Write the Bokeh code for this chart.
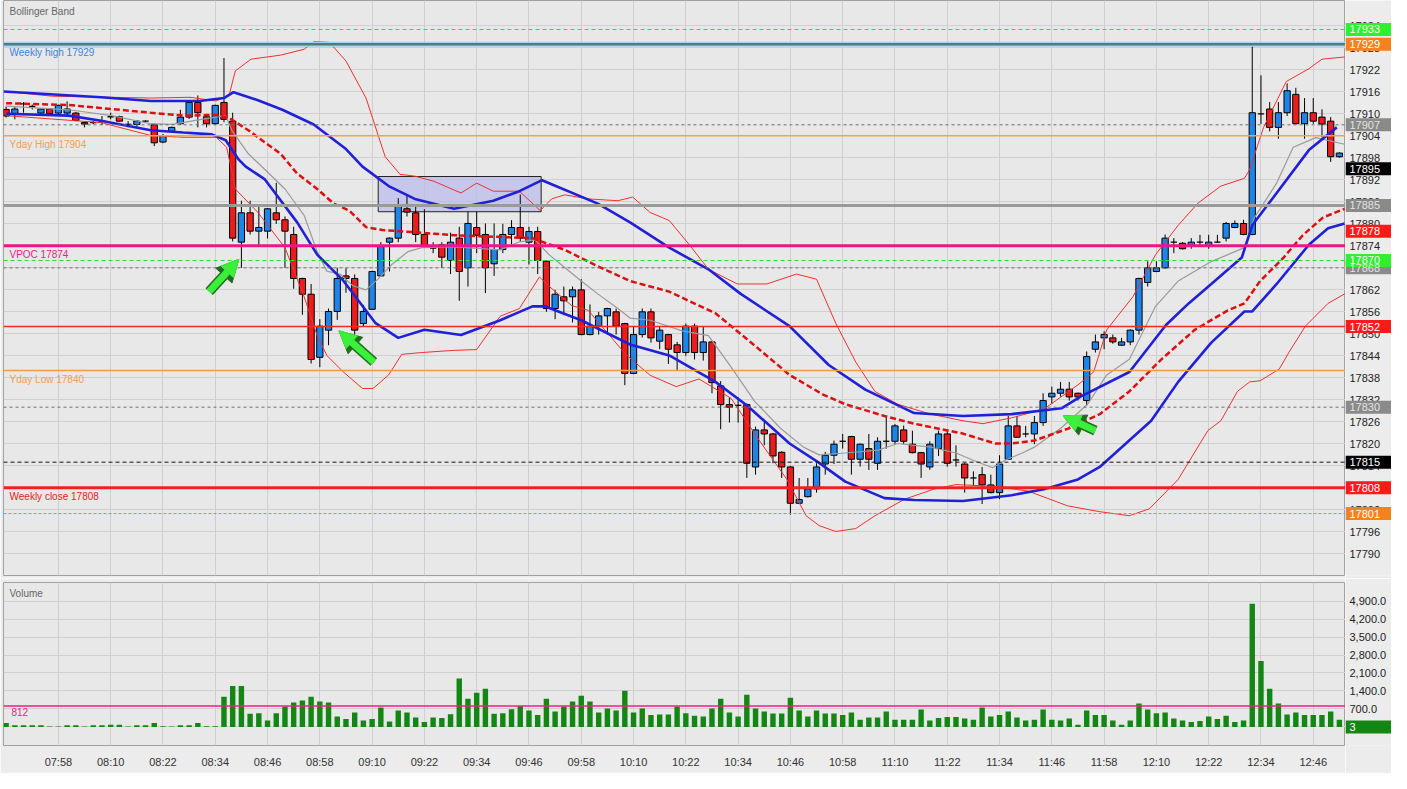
from bokeh.plotting import figure
from bokeh.models import (ColumnDataSource, FixedTicker, Range1d, Span,
                          Arrow, NormalHead)
from bokeh.layouts import column, row
from bokeh.embed import file_html
from bokeh.resources import INLINE
from bokeh.core.properties import value

# ---------------- data (2-minute bars, index 0 = 07:46) ----------------
OPEN = [17911.2, 17910.1, 17912.7, 17912.0, 17910.2, 17911.3, 17910.2, 17910.2, 17910.2, 17907.6,
        17907.6, 17908.0, 17909.2, 17909.2, 17907.1, 17907.1, 17908.0, 17907.0, 17902.3, 17905.2,
        17907.3, 17909.1, 17913.1, 17909.2, 17907.3, 17913.1, 17908.0, 17875.0, 17883.0, 17878.0,
        17878.0, 17883.0, 17881.1, 17877.1, 17865.1, 17860.8, 17843.6, 17851.0, 17856.1, 17865.8,
        17865.1, 17852.8, 17856.7, 17865.8, 17875.0, 17876.1, 17884.1, 17883.0, 17877.1, 17873.4,
        17874.3, 17870.0, 17876.1, 17868.0, 17879.0, 17877.1, 17869.1, 17873.0, 17877.1, 17879.0,
        17875.0, 17877.9, 17869.8, 17856.9, 17860.1, 17860.1, 17862.0, 17849.8, 17852.1, 17854.9,
        17856.0, 17852.8, 17839.2, 17849.8, 17856.0, 17848.0, 17849.8, 17847.0, 17844.9, 17852.1,
        17844.9, 17847.8, 17835.8, 17830.7, 17830.5, 17830.7, 17813.7, 17823.8, 17822.7, 17817.7,
        17813.7, 17803.8, 17805.6, 17807.7, 17814.5, 17816.9, 17820.7, 17822.0, 17815.8, 17818.7,
        17814.7, 17820.7, 17820.7, 17823.8, 17819.9, 17817.6, 17813.7, 17818.7, 17822.7, 17815.6,
        17814.5, 17810.7, 17811.6, 17808.8, 17806.7, 17815.8, 17824.9, 17822.7, 17822.7, 17825.8,
        17832.8, 17833.8, 17834.9, 17833.8, 17831.8, 17845.8, 17848.9, 17848.9, 17846.9, 17847.8,
        17851.0, 17864.0, 17867.0, 17868.0, 17875.0, 17874.7, 17874.1, 17875.0, 17874.1, 17875.0,
        17876.1, 17879.0, 17880.1, 17877.1, 17910.0, 17911.3, 17906.3, 17910.3, 17915.3, 17907.3,
        17910.3, 17909.1, 17908.0, 17898.3]
HIGH = [17912.0, 17911.8, 17913.2, 17912.5, 17911.5, 17911.5, 17912.5, 17913.4, 17910.5, 17907.8,
        17908.0, 17909.4, 17910.3, 17909.5, 17908.0, 17908.3, 17908.2, 17907.3, 17904.5, 17906.5,
        17911.1, 17913.5, 17915.0, 17910.0, 17912.5, 17925.2, 17910.3, 17886.3, 17886.3, 17885.2,
        17884.3, 17891.2, 17882.0, 17879.2, 17865.3, 17863.6, 17854.0, 17856.9, 17868.0, 17867.9,
        17866.2, 17857.9, 17867.2, 17875.0, 17876.3, 17887.0, 17888.0, 17885.1, 17884.0, 17875.0,
        17875.0, 17877.6, 17879.2, 17883.3, 17883.3, 17880.1, 17880.1, 17880.0, 17881.0, 17888.0,
        17879.2, 17879.2, 17870.0, 17862.0, 17862.9, 17862.9, 17864.9, 17858.0, 17856.0, 17857.1,
        17856.9, 17853.0, 17852.1, 17856.9, 17856.9, 17852.1, 17850.0, 17847.8, 17852.8, 17852.8,
        17852.1, 17848.0, 17837.1, 17832.7, 17832.7, 17831.0, 17824.7, 17826.3, 17823.0, 17818.0,
        17814.0, 17810.7, 17810.7, 17814.7, 17817.8, 17820.9, 17822.7, 17822.2, 17820.1, 17822.7,
        17821.8, 17827.6, 17825.4, 17825.0, 17823.6, 17817.8, 17820.7, 17823.6, 17823.6, 17819.6,
        17814.7, 17812.5, 17813.7, 17811.6, 17816.9, 17827.6, 17827.6, 17824.9, 17827.6, 17833.8,
        17835.6, 17836.9, 17836.9, 17834.0, 17845.2, 17849.8, 17850.7, 17849.8, 17848.9, 17851.2,
        17865.3, 17869.8, 17869.8, 17877.1, 17876.1, 17875.0, 17876.1, 17877.0, 17877.0, 17877.0,
        17880.5, 17880.9, 17881.1, 17929.4, 17920.5, 17913.2, 17913.2, 17918.3, 17917.1, 17914.3,
        17914.3, 17911.2, 17909.1, 17899.5]
LOW = [17909.0, 17908.5, 17910.3, 17911.2, 17910.0, 17909.8, 17910.0, 17909.4, 17908.0, 17906.3,
       17907.2, 17907.0, 17908.5, 17907.8, 17906.3, 17906.5, 17907.8, 17901.2, 17902.0, 17905.0,
       17907.0, 17908.6, 17906.3, 17906.3, 17907.0, 17907.7, 17875.2, 17868.0, 17877.1, 17874.3,
       17876.0, 17880.0, 17868.0, 17862.3, 17855.2, 17841.9, 17840.9, 17846.9, 17853.8, 17861.2,
       17849.8, 17851.9, 17856.5, 17865.6, 17867.0, 17875.0, 17882.0, 17875.0, 17873.4, 17872.0,
       17868.0, 17866.3, 17859.0, 17862.9, 17872.0, 17861.1, 17865.8, 17872.0, 17874.3, 17875.2,
       17868.9, 17866.3, 17856.0, 17854.0, 17855.1, 17853.1, 17849.6, 17849.6, 17849.8, 17849.8,
       17849.8, 17836.0, 17839.0, 17849.0, 17847.6, 17845.8, 17841.8, 17839.9, 17844.0, 17843.0,
       17842.7, 17833.8, 17824.0, 17825.8, 17825.8, 17810.7, 17811.6, 17819.6, 17814.7, 17810.7,
       17800.7, 17803.6, 17805.4, 17806.7, 17811.6, 17814.5, 17818.7, 17811.6, 17813.8, 17812.9,
       17812.9, 17818.7, 17819.9, 17819.9, 17817.4, 17810.7, 17812.9, 17816.7, 17813.8, 17813.8,
       17806.7, 17808.5, 17803.6, 17806.5, 17804.9, 17815.6, 17821.6, 17821.8, 17819.9, 17824.9,
       17830.9, 17832.9, 17831.8, 17831.8, 17830.5, 17844.9, 17845.8, 17847.3, 17846.7, 17846.9,
       17849.8, 17862.9, 17866.8, 17867.8, 17872.0, 17873.0, 17873.2, 17873.8, 17873.2, 17874.8,
       17875.2, 17878.8, 17876.9, 17876.9, 17907.2, 17905.2, 17903.2, 17909.4, 17907.1, 17903.2,
       17907.3, 17903.6, 17896.9, 17898.0]
CLOSE = [17909.4, 17911.3, 17912.7, 17912.0, 17911.3, 17910.1, 17912.3, 17911.3, 17908.2, 17907.2,
         17907.6, 17908.0, 17909.2, 17908.0, 17907.1, 17908.0, 17908.0, 17902.1, 17904.0, 17906.3,
         17909.1, 17913.1, 17910.3, 17907.3, 17912.3, 17908.5, 17876.1, 17883.0, 17878.0, 17879.0,
         17884.1, 17881.1, 17878.0, 17865.1, 17860.8, 17843.0, 17852.1, 17856.1, 17865.1, 17865.1,
         17851.0, 17856.1, 17867.0, 17873.8, 17876.1, 17885.1, 17883.2, 17877.1, 17874.0, 17873.4,
         17870.9, 17875.0, 17867.0, 17880.1, 17876.9, 17868.0, 17873.0, 17877.1, 17879.0, 17876.1,
         17877.9, 17870.0, 17856.9, 17860.8, 17859.0, 17862.0, 17849.8, 17852.1, 17854.9, 17856.9,
         17852.1, 17839.2, 17849.8, 17856.0, 17848.9, 17851.0, 17845.8, 17844.9, 17852.1, 17844.9,
         17847.8, 17836.7, 17830.7, 17830.0, 17830.5, 17814.7, 17823.8, 17822.7, 17816.7, 17813.7,
         17803.8, 17804.8, 17807.7, 17813.7, 17816.9, 17819.9, 17820.7, 17815.8, 17819.9, 17815.8,
         17820.7, 17820.7, 17824.9, 17820.7, 17817.6, 17814.5, 17819.9, 17822.7, 17814.7, 17815.6,
         17810.7, 17810.7, 17808.8, 17806.7, 17814.5, 17824.9, 17821.8, 17822.7, 17825.8, 17831.8,
         17833.8, 17834.9, 17832.8, 17832.8, 17843.8, 17847.8, 17849.8, 17847.8, 17847.8, 17851.0,
         17865.1, 17868.0, 17868.0, 17876.1, 17875.0, 17873.2, 17875.0, 17875.0, 17875.0, 17875.0,
         17880.1, 17880.1, 17877.1, 17910.3, 17910.0, 17906.3, 17910.3, 17916.3, 17907.3, 17910.3,
         17908.0, 17907.2, 17898.3, 17899.3]
VOLUME = [154, 64, 64, 64, 64, 15, 15, 64, 64, 15,
          64, 64, 90, 90, 15, 64, 64, 154, 26, 15,
          64, 64, 154, 26, 26, 1180, 1591, 1591, 513, 539,
          257, 539, 795, 949, 1026, 1180, 988, 949, 411, 308,
          565, 257, 308, 757, 218, 642, 565, 372, 192, 372,
          346, 500, 1886, 1103, 1334, 1488, 513, 539, 693, 821,
          642, 462, 1103, 603, 795, 988, 1219, 988, 565, 718,
          642, 1411, 565, 718, 462, 488, 488, 795, 539, 436,
          411, 718, 1103, 565, 411, 1257, 718, 603, 526, 526,
          1142, 642, 411, 642, 526, 526, 462, 565, 282, 372,
          372, 603, 282, 282, 282, 680, 257, 346, 385, 385,
          334, 282, 757, 411, 462, 603, 372, 257, 282, 680,
          282, 257, 334, 90, 642, 462, 462, 257, 90, 257,
          911, 680, 539, 565, 334, 257, 192, 231, 411, 308,
          436, 192, 257, 4798, 2566, 1488, 911, 488, 565, 462,
          462, 462, 603, 282]
VOL_LAST = 3
VOL_AVG = 812

TIME_TICKS = [6, 12, 18, 24, 30, 36, 42, 48, 54, 60, 66, 72, 78, 84, 90, 96, 102, 108,
              114, 120, 126, 132, 138, 144, 150]
TIME_LABELS = ["07:58", "08:10", "08:22", "08:34", "08:46", "08:58", "09:10", "09:22", "09:34",
               "09:46", "09:58", "10:10", "10:22", "10:34", "10:46", "10:58", "11:10", "11:22",
               "11:34", "11:46", "11:58", "12:10", "12:22", "12:34", "12:46"]
PRICE_TICKS = [17790, 17796, 17802, 17808, 17814, 17820, 17826, 17832, 17838, 17844, 17850,
               17856, 17862, 17868, 17874, 17880, 17886, 17892, 17898, 17904, 17910, 17916,
               17922, 17928, 17934]
VOL_TICKS = [0, 700, 1400, 2100, 2800, 3500, 4200, 4900]
VOL_TICK_LABELS = ["0.0", "700.0", "1,400.0", "2,100.0", "2,800.0", "3,500.0", "4,200.0",
                   "4,900.0"]

# indicator lines (bar index, price)
BLUE_UP_X = [-0.3, 10.9, 16.6, 22.2, 25.0, 26.1, 28.9, 31.7, 35.3, 39.0, 40.9, 43.9, 46.9, 51.4,
             55.9, 58.9, 61.5, 67.9, 71.6, 76.1, 80.6, 84.3, 89.9, 94.4, 98.6, 104.2, 109.8,
             115.4, 121.1, 123.3, 128.9, 133.1, 135.7, 138.3, 141.8, 143.0, 145.8, 149.5, 152.7]
BLUE_UP_Y = [17916.1, 17914.5, 17913.5, 17913.5, 17914.3, 17915.9, 17913.7, 17911.1, 17907.1,
             17900.4, 17895.6, 17890.3, 17886.8, 17884.1, 17886.3, 17888.9, 17891.9, 17885.5,
             17880.4, 17873.5, 17867.6, 17860.9, 17852.1, 17841.5, 17834.8, 17828.4, 17827.6,
             17828.1, 17829.7, 17832.9, 17839.6, 17852.4, 17858.3, 17863.6, 17870.8, 17879.6,
             17888.4, 17900.1, 17906.3]
BLUE_LO_X = [0.0, 7.2, 10.9, 16.6, 20.3, 23.6, 25.2, 26.7, 27.5, 29.7, 33.4, 35.7, 38.7, 42.4,
             45.0, 48.0, 52.2, 56.7, 60.4, 61.8, 66.0, 71.6, 76.1, 81.4, 85.1, 89.9, 93.3, 96.3,
             100.8, 104.2, 109.8, 115.4, 119.1, 123.0, 125.5, 131.4, 134.5, 138.3, 142.1, 143.0,
             145.8, 149.5, 151.7, 153.6]
BLUE_LO_Y = [17910.0, 17909.5, 17908.1, 17905.5, 17904.9, 17904.4, 17902.8, 17897.5, 17895.6,
             17892.1, 17880.4, 17871.6, 17864.5, 17852.9, 17848.9, 17851.1, 17849.7, 17853.7,
             17857.5, 17857.5, 17853.7, 17847.1, 17844.1, 17836.9, 17830.3, 17820.1, 17814.8,
             17809.7, 17805.2, 17804.7, 17804.4, 17806.0, 17807.6, 17810.3, 17813.7, 17826.3,
             17836.9, 17847.6, 17856.1, 17856.1, 17863.6, 17874.3, 17878.8, 17880.1]
BB_UP_X = [0.0, 5.3, 16.6, 21.1, 24.1, 25.6, 26.3, 28.1, 31.5, 34.2, 35.3, 37.1, 39.0, 41.3,
           43.5, 45.2, 46.9, 49.1, 52.2, 54.0, 55.9, 58.9, 61.3, 62.6, 64.1, 66.8, 70.2, 71.9,
           73.9, 76.1, 78.4, 80.6, 83.9, 87.3, 90.7, 93.0, 95.2, 97.5, 99.7, 102.3, 106.1, 109.8,
           112.1, 115.4, 119.1, 123.0, 124.8, 126.3, 129.3, 131.9, 134.5, 136.8, 139.4, 142.1,
           142.7, 144.3, 146.9, 149.5, 151.0, 153.6]
BB_UP_Y = [17916.1, 17914.8, 17914.3, 17914.5, 17913.5, 17915.1, 17921.7, 17924.9, 17926.0,
           17927.6, 17929.7, 17929.5, 17924.4, 17914.3, 17898.3, 17893.5, 17893.0, 17891.6,
           17888.4, 17891.1, 17888.9, 17888.9, 17883.6, 17886.8, 17887.9, 17886.8, 17886.3,
           17887.3, 17883.1, 17880.9, 17874.3, 17867.6, 17863.6, 17863.6, 17866.3, 17864.9,
           17852.9, 17842.3, 17834.3, 17830.8, 17828.1, 17826.3, 17825.5, 17827.1, 17829.5,
           17836.1, 17839.6, 17851.1, 17860.1, 17871.6, 17879.6, 17885.7, 17890.3, 17892.4,
           17894.8, 17906.3, 17918.8, 17922.3, 17924.9, 17925.5]
BB_LO_X = [0.0, 10.9, 16.6, 20.3, 24.1, 25.3, 25.9, 26.3, 28.9, 32.0, 34.2, 35.7, 36.8, 38.7,
           40.9, 42.1, 43.9, 45.4, 47.7, 51.4, 54.0, 56.7, 58.9, 61.2, 62.4, 64.9, 66.8, 71.1,
           73.9, 76.9, 79.5, 83.2, 86.2, 89.6, 91.8, 93.3, 95.2, 97.5, 99.7, 103.1, 106.4, 109.0,
           113.5, 117.3, 121.8, 125.5, 128.9, 131.2, 134.5, 137.9, 139.4, 141.3, 142.7, 143.9,
           146.1, 147.2, 149.1, 151.7, 153.6]
BB_LO_Y = [17909.5, 17907.6, 17904.1, 17903.6, 17903.6, 17900.9, 17894.3, 17889.5, 17883.1,
           17873.5, 17860.1, 17849.5, 17844.1, 17839.6, 17835.1, 17835.1, 17838.8, 17844.4,
           17844.9, 17845.5, 17845.7, 17854.8, 17856.9, 17865.5, 17862.8, 17857.7, 17856.4,
           17844.4, 17838.7, 17835.6, 17837.7, 17832.4, 17821.7, 17810.3, 17800.4, 17797.7,
           17796.1, 17796.9, 17800.4, 17804.9, 17807.6, 17808.9, 17808.4, 17807.1, 17803.1,
           17801.5, 17800.4, 17802.3, 17810.3, 17823.6, 17826.3, 17834.3, 17836.9, 17837.2,
           17840.4, 17844.9, 17852.1, 17858.3, 17860.9]
BB_MID_X = [0.0, 7.2, 16.6, 20.3, 24.1, 25.6, 27.8, 31.5, 33.4, 35.7, 37.6, 39.4, 41.3, 43.2,
            46.9, 51.4, 56.7, 60.4, 61.5, 64.1, 67.9, 71.6, 76.1, 81.4, 85.1, 89.9, 93.7, 96.3,
            100.8, 104.2, 109.8, 113.5, 115.4, 118.0, 121.8, 125.5, 128.9, 132.6, 136.4, 140.2,
            142.1, 143.9, 146.6, 148.8, 151.1, 153.6]
BB_MID_Y = [17912.9, 17912.4, 17910.3, 17909.5, 17909.7, 17908.9, 17905.5, 17899.1, 17893.7,
            17889.5, 17885.5, 17883.6, 17879.1, 17878.3, 17877.7, 17876.9, 17876.4, 17876.1,
            17875.1, 17872.9, 17868.4, 17864.4, 17861.5, 17855.6, 17848.4, 17838.8, 17833.5,
            17830.8, 17827.6, 17825.5, 17822.8, 17820.1, 17820.1, 17820.9, 17824.1, 17828.1,
            17834.3, 17843.1, 17851.1, 17856.4, 17858.3, 17864.4, 17870.8, 17876.9, 17881.7,
            17884.1]
MA_X = [0.0, 7.2, 12.1, 16.6, 19.1, 22.2, 25.2, 25.9, 27.8, 29.7, 32.0, 34.2, 35.7, 36.8, 38.3,
        39.8, 41.3, 42.7, 44.3, 46.1, 47.7, 51.4, 56.7, 58.9, 60.7, 62.3, 64.1, 66.0, 67.9, 70.2,
        71.6, 73.9, 77.6, 80.6, 83.2, 85.9, 88.8, 91.5, 93.3, 96.3, 100.1, 102.3, 106.1, 109.0,
        110.9, 113.2, 114.7, 116.6, 118.0, 121.1, 124.1, 126.3, 128.9, 131.9, 134.5, 138.3,
        142.1, 143.2, 145.8, 147.7, 150.3, 153.6]
MA_Y = [17912.1, 17911.1, 17909.5, 17907.3, 17907.1, 17908.4, 17909.5, 17905.5, 17899.1, 17894.8,
        17889.5, 17882.3, 17872.4, 17867.1, 17866.3, 17863.1, 17862.0, 17865.0, 17869.0, 17872.4,
        17873.5, 17873.7, 17872.9, 17875.1, 17875.6, 17871.6, 17868.1, 17864.4, 17860.9, 17856.9,
        17854.3, 17853.7, 17850.8, 17849.5, 17840.9, 17831.6, 17824.4, 17819.1, 17817.0, 17817.5,
        17818.3, 17820.1, 17819.1, 17817.5, 17815.6, 17813.5, 17815.6, 17817.5, 17819.1, 17824.4,
        17830.8, 17838.8, 17843.1, 17857.5, 17864.4, 17869.7, 17873.5, 17881.5, 17891.1, 17900.9,
        17903.5, 17901.7]

# horizontal levels
LEVEL_VALUES = [17933, 17929, 17907, 17904, 17885, 17874, 17870, 17868, 17852, 17840, 17830,
                17815, 17808, 17801]
LEFT_TEXTS = ["Weekly high 17929", "Yday High 17904", "VPOC 17874", "Yday Low 17840",
              "Weekly close 17808"]
LEFT_TEXT_VALUES = [17929, 17904, 17874, 17840, 17808]
RIGHT_LABEL_VALUES = [17933, 17929, 17907, 17895, 17885, 17878, 17868, 17870, 17852, 17830,
                      17815, 17808, 17801]

# highlight box and arrows
BOX_LEFT, BOX_RIGHT, BOX_BOTTOM, BOX_TOP = [42.7], [61.4], [17883.3], [17892.9]
ARROW_X0 = [23.3, 42.2, 125.0]
ARROW_Y0 = [17861.5, 17842.3, 17823.6]
ARROW_X1 = [26.7, 38.2, 121.3]
ARROW_Y1 = [17870.3, 17850.8, 17827.6]

# ---------------- styles ----------------
FONT = "Liberation Sans"
BG = "#e8e8e8"
BORDER = "#ececec"
GRID = "#d0d0d0"
UP = "#1e84e8"
DOWN = "#ec1c1c"
X_START, X_END = -0.3, 153.7
AXIS_W = 46

LEVEL_STYLE = {
    17933: ("#2ee02e", 1, "4 3"),
    17907: ("#6e6e6e", 1, "3 3"),
    17904: ("#f4a04c", 1.5, "solid"),
    17885: ("#9a9a9a", 3, "solid"),
    17874: ("#ee1589", 3, "solid"),
    17870: ("#2ee02e", 1, "4 3"),
    17868: ("#707070", 1, "3 3"),
    17852: ("#ee2a2a", 1.5, "solid"),
    17840: ("#f39a3c", 1.5, "solid"),
    17830: ("#6e6e6e", 1, "3 3"),
    17815: ("#111111", 1, "4 3"),
    17808: ("#ee2222", 3, "solid"),
    17801: ("#f08a20", 1, "3 2"),
}
LEFT_TEXT_COLORS = ["#3a85e0", "#f0a050", "#e8208a", "#f0a050", "#e82020"]
RIGHT_LABEL_STYLE = {
    17933: ("#2ef02e", "#ffffff"), 17929: ("#f5821f", "#ffffff"), 17907: ("#8a8a8a", "#e4e4e4"),
    17895: ("#000000", "#ffffff"), 17885: ("#8a8a8a", "#e4e4e4"), 17878: ("#ff1a1a", "#ffffff"),
    17868: ("#8a8a8a", "#e4e4e4"), 17870: ("#2ef02e", "#ffffff"), 17852: ("#ff1a1a", "#ffffff"),
    17830: ("#8a8a8a", "#e4e4e4"), 17815: ("#000000", "#ffffff"), 17808: ("#ff1a1a", "#ffffff"),
    17801: ("#f5821f", "#ffffff"),
}


def axis_panel(yr, frame_h, top, bottom):
    a = figure(frame_width=AXIS_W, frame_height=frame_h, x_range=Range1d(0, 1), y_range=yr,
               x_axis_location=None, y_axis_location=None, output_backend="svg",
               toolbar_location=None, min_border_left=0, min_border_right=0,
               min_border_top=top, min_border_bottom=bottom, background_fill_color=BORDER,
               border_fill_color=BORDER, outline_line_color=None)
    a.xgrid.visible = False
    a.ygrid.visible = False
    return a


# ---------------- main price panel ----------------
xr = Range1d(X_START, X_END)
y_price = Range1d(17784.1, 17940.9)
p = figure(frame_width=1342, frame_height=575, x_range=xr, y_range=y_price,
           x_axis_location=None, y_axis_location=None, output_backend="svg",
           toolbar_location=None, min_border_left=3, min_border_right=0, min_border_top=0,
           min_border_bottom=3, background_fill_color=BG, border_fill_color=BORDER,
           outline_line_color="#a0a0a0")
p.ygrid.ticker = FixedTicker(ticks=PRICE_TICKS)
p.xgrid.ticker = FixedTicker(ticks=TIME_TICKS)
p.grid.grid_line_color = GRID

p.quad(left=BOX_LEFT, right=BOX_RIGHT, bottom=BOX_BOTTOM, top=BOX_TOP,
       fill_color="#b9b9ec", fill_alpha=0.7, line_color="#222222", line_width=1)

n = len(OPEN)
idx = list(range(n))
p.segment(x0=idx, y0=LOW, x1=idx, y1=HIGH, line_color="black", line_width=1)
bx, btop, bbot, bcol = [], [], [], []
dx0, dx1, dy = [], [], []
for i, o, c in zip(idx, OPEN, CLOSE):
    if o == c:
        dx0.append(i - 0.36)
        dx1.append(i + 0.36)
        dy.append(o)
    else:
        bx.append(i)
        btop.append(max(o, c))
        bbot.append(min(o, c))
        bcol.append(UP if c > o else DOWN)
p.vbar(x=bx, top=btop, bottom=bbot, width=0.72, fill_color=bcol, line_color="black",
       line_width=1)
p.segment(x0=dx0, y0=dy, x1=dx1, y1=dy, line_color="black", line_width=1.3)

p.line(MA_X, MA_Y, line_color="#9a9a9a", line_width=1.2)
p.line(BB_UP_X, BB_UP_Y, line_color="#f03030", line_width=1)
p.line(BB_LO_X, BB_LO_Y, line_color="#f03030", line_width=1)
p.line(BB_MID_X, BB_MID_Y, line_color="#dd1010", line_width=2.5, line_dash="6 3")
p.line(BLUE_UP_X, BLUE_UP_Y, line_color="#2020d8", line_width=2.6)
p.line(BLUE_LO_X, BLUE_LO_Y, line_color="#2020d8", line_width=2.6)

for lv in LEVEL_VALUES:
    if lv == 17929:
        p.add_layout(Span(location=lv, dimension="width", line_color="#a6d0f2", line_width=5))
        p.add_layout(Span(location=lv, dimension="width", line_color="#4d8070", line_width=2.5))
        continue
    col, w, dash = LEVEL_STYLE[lv]
    p.add_layout(Span(location=lv, dimension="width", line_color=col, line_width=w,
                      line_dash=dash))

arrow_src = ColumnDataSource(dict(x0=ARROW_X0, y0=ARROW_Y0, x1=ARROW_X1, y1=ARROW_Y1))
p.add_layout(Arrow(end=NormalHead(size=22, fill_color="#1d6e1d", line_color="#1d6e1d"),
                   x_start="x0", y_start="y0", x_end="x1", y_end="y1", source=arrow_src,
                   line_color="#1d6e1d", line_width=10))
p.add_layout(Arrow(end=NormalHead(size=17, fill_color="#3bef3b", line_color="#3bef3b"),
                   x_start="x0", y_start="y0", x_end="x1", y_end="y1", source=arrow_src,
                   line_color="#3bef3b", line_width=7))

p.text(x=[X_START] * len(LEFT_TEXTS), y=LEFT_TEXT_VALUES, text=LEFT_TEXTS,
       text_color=LEFT_TEXT_COLORS, text_font=value(FONT), text_font_size="10px",
       text_baseline="top", text_align="left", x_offset=6, y_offset=3)
p.text(x=[X_START], y=[17940.9], text=["Bollinger Band"], text_color="#666666",
       text_font=value(FONT), text_font_size="10px", text_baseline="top", x_offset=6,
       y_offset=5)

# price scale panel (tick labels + level boxes)
pax = axis_panel(y_price, 575, 0, 3)
pax.text(x=[0] * len(PRICE_TICKS), y=PRICE_TICKS, text=[str(t) for t in PRICE_TICKS],
         text_color="#222222", text_font=value(FONT), text_font_size="11px",
         text_baseline="middle", text_align="left", x_offset=4)
rl_bg = [RIGHT_LABEL_STYLE[lv][0] for lv in RIGHT_LABEL_VALUES]
rl_fg = [RIGHT_LABEL_STYLE[lv][1] for lv in RIGHT_LABEL_VALUES]
pax.rect(x=[0.5] * len(RIGHT_LABEL_VALUES), y=RIGHT_LABEL_VALUES, width=1, height=13,
         height_units="screen", fill_color=rl_bg, line_color=None)
pax.text(x=[0] * len(RIGHT_LABEL_VALUES), y=RIGHT_LABEL_VALUES,
         text=[str(lv) for lv in RIGHT_LABEL_VALUES], text_color=rl_fg, text_font=value(FONT),
         text_font_size="11px", text_baseline="middle", text_align="left", x_offset=4)

# ---------------- volume panel ----------------
y_vol = Range1d(-720, 5620)
v = figure(frame_width=1342, frame_height=163, x_range=xr, y_range=y_vol,
           y_axis_location=None, output_backend="svg", toolbar_location=None,
           min_border_left=3, min_border_right=0, min_border_top=4, min_border_bottom=28,
           background_fill_color=BG, border_fill_color=BORDER, outline_line_color="#a0a0a0")
v.vbar(x=idx, top=VOLUME, bottom=0, width=0.62, fill_color="#138613", line_color=None)
v.add_layout(Span(location=VOL_AVG, dimension="width", line_color="#e8208a", line_width=1.5))
v.xaxis.ticker = FixedTicker(ticks=TIME_TICKS)
v.xaxis.major_label_overrides = {t: lab for t, lab in zip(TIME_TICKS, TIME_LABELS)}
v.xaxis.major_label_text_font = FONT
v.xaxis.major_label_text_font_size = "11px"
v.xaxis.major_label_text_color = "#333333"
v.xaxis.axis_line_color = None
v.xaxis.major_tick_line_color = None
v.xaxis.minor_tick_line_color = None
v.xaxis.major_label_standoff = 4
v.ygrid.ticker = FixedTicker(ticks=VOL_TICKS)
v.xgrid.ticker = FixedTicker(ticks=TIME_TICKS)
v.grid.grid_line_color = GRID

v.text(x=[X_START], y=[5620], text=["Volume"], text_color="#666666", text_font=value(FONT),
       text_font_size="10px", text_baseline="top", x_offset=6, y_offset=5)
v.text(x=[X_START], y=[VOL_AVG], text=[str(VOL_AVG)], text_color="#e8208a",
       text_font=value(FONT), text_font_size="10px", text_baseline="top", x_offset=8,
       y_offset=2)

vax = axis_panel(y_vol, 163, 4, 28)
vax.text(x=[0] * len(VOL_TICKS), y=VOL_TICKS, text=VOL_TICK_LABELS, text_color="#222222",
         text_font=value(FONT), text_font_size="11px", text_baseline="middle",
         text_align="left", x_offset=4)
vax.rect(x=[0.5], y=[VOL_LAST], width=1, height=13, height_units="screen",
         fill_color="#138613", line_color=None)
vax.text(x=[0], y=[VOL_LAST], text=[str(VOL_LAST)], text_color="#ffffff",
         text_font=value(FONT), text_font_size="11px", text_baseline="middle",
         text_align="left", x_offset=4)

layout = column(row(p, pax), row(v, vax))
open("out.html", "w").write(file_html(layout, INLINE))
